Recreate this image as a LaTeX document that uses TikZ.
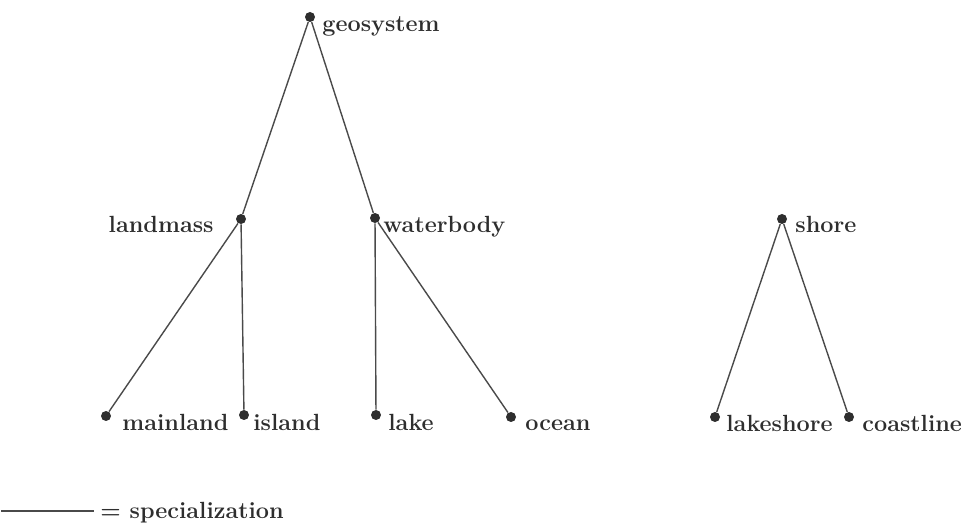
\documentclass[tikz,border=0pt]{standalone}
\usepackage{tikz}
\usetikzlibrary{positioning}
\definecolor{Ink}{HTML}{2E2E2E}
\definecolor{Edge}{HTML}{4A4A4A}
\begin{document}
\begin{tikzpicture}[
  x=0.5pt,y=-0.5pt,
  dot/.style={circle,fill=Ink,inner sep=0pt,minimum size=5pt},
  lbl/.style={inner sep=0pt,text=Ink,font=\fontsize{11.7}{14}\selectfont\bfseries},
  spec/.style={draw=Edge,line width=0.7pt}]
\useasboundingbox (0,0) rectangle (966,523);
% concepts
\node[dot] (geo) at (310,17) {};
\node[dot] (land) at (241,219) {};
\node[dot] (water) at (375,218) {};
\node[dot] (main) at (106,416) {};
\node[dot] (isl) at (244,415) {};
\node[dot] (lake) at (376,415) {};
\node[dot] (ocean) at (511,417) {};
\node[dot] (shore) at (782,219) {};
\node[dot] (lshore) at (715,417) {};
\node[dot] (coast) at (849,417) {};
% names
\node[lbl,anchor=base west] (geo-t) at (322,32) {geosystem};
\node[lbl,anchor=base east] (land-t) at (214,233) {landmass};
\node[lbl,anchor=base west] (water-t) at (383,233) {waterbody};
\node[lbl,anchor=base west] (main-t) at (122,431) {mainland};
\node[lbl,anchor=base west] (isl-t) at (253,431) {island};
\node[lbl,anchor=base west] (lake-t) at (388,431) {lake};
\node[lbl,anchor=base west] (ocean-t) at (525,431) {ocean};
\node[lbl,anchor=base west] (shore-t) at (795,233) {shore};
\node[lbl,anchor=base west] (lshore-t) at (726,432) {lakeshore};
\node[lbl,anchor=base west] (coast-t) at (862,432) {coastline};
% specialization links
\draw[spec] (geo) -- (land);
\draw[spec] (geo) -- (water);
\draw[spec] (land) -- (main);
\draw[spec] (land) -- (isl);
\draw[spec] (water) -- (lake);
\draw[spec] (water) -- (ocean);
\draw[spec] (shore) -- (lshore);
\draw[spec] (shore) -- (coast);
% legend
\coordinate (key-a) at (1,511);
\node[lbl,anchor=base west] (key-t) at (100,519) {= specialization};
\draw[spec] (key-a) -- ([xshift=-3pt]key-t.west |- key-a);
\end{tikzpicture}
\end{document}
